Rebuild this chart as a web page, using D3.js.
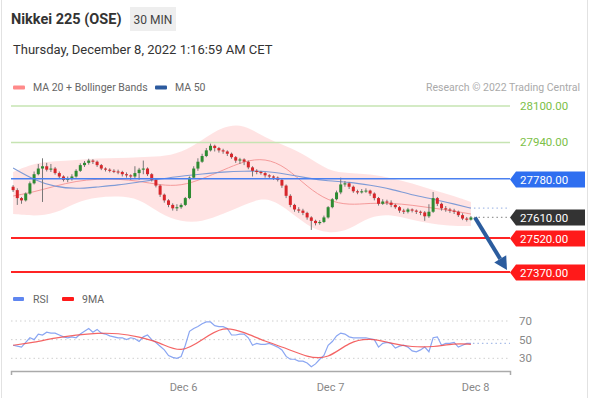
<!doctype html>
<html>
<head>
<meta charset="utf-8">
<script src="https://cdn.jsdelivr.net/npm/d3@7"></script>
<style>
html,body{margin:0;background:#fff;overflow:hidden;}
svg{display:block;font-family:Roboto,"Noto Sans",sans-serif;}
</style>
</head>
<body>
<script>
// 30 min bars, Dec 5 evening -> Dec 8 early morning
var closes = [
  27730,27695,27685,27715,27760,27800,27825,27835,27820,27825,
  27805,27790,27775,27780,27790,27815,27840,27850,27860,27855,
  27840,27825,27820,27815,27812,27810,27800,27795,27790,27805,
  27820,27825,27800,27775,27750,27710,27685,27665,27650,27655,
  27665,27695,27785,27825,27855,27880,27905,27925,27915,27905,
  27900,27890,27875,27860,27865,27855,27830,27815,27810,27805,
  27795,27790,27785,27775,27750,27705,27665,27645,27640,27630,
  27610,27595,27585,27590,27610,27655,27690,27720,27755,27760,
  27745,27725,27720,27725,27728,27715,27695,27670,27680,27675,
  27665,27655,27640,27635,27645,27640,27635,27632,27615,27635,
  27695,27670,27650,27645,27640,27635,27620,27605,27600,27610
];
var highs = [
  27752,27738,27700,27720,27768,27812,27845,27870,27850,27845,
  27832,27812,27795,27790,27800,27822,27848,27858,27868,27866,
  27860,27845,27830,27826,27822,27820,27815,27808,27800,27835,
  27828,27860,27830,27805,27780,27755,27715,27690,27672,27668,
  27672,27700,27790,27835,27870,27890,27915,27935,27930,27920,
  27912,27905,27895,27880,27872,27870,27860,27835,27822,27815,
  27810,27800,27795,27790,27780,27755,27712,27670,27655,27648,
  27635,27615,27600,27598,27618,27660,27695,27728,27785,27770,
  27765,27750,27732,27735,27738,27732,27720,27700,27690,27688,
  27685,27670,27660,27648,27652,27650,27645,27640,27638,27668,
  27722,27700,27675,27660,27652,27648,27640,27628,27612,27616
];
var lows = [
  27722,27665,27670,27680,27710,27755,27795,27678,27812,27810,
  27798,27782,27768,27765,27772,27785,27810,27832,27842,27845,
  27832,27818,27812,27808,27805,27800,27790,27785,27775,27782,
  27775,27800,27792,27768,27742,27700,27675,27655,27640,27638,
  27648,27660,27690,27780,27815,27850,27875,27900,27900,27895,
  27890,27880,27868,27850,27845,27840,27822,27790,27800,27798,
  27785,27780,27775,27768,27740,27695,27655,27635,27630,27620,
  27600,27555,27575,27578,27585,27605,27650,27685,27712,27745,
  27735,27718,27712,27715,27718,27705,27685,27662,27665,27665,
  27655,27648,27630,27625,27628,27632,27625,27620,27595,27608,
  27630,27660,27640,27635,27630,27625,27612,27598,27592,27596
];
var firstOpen = 27745;

// indicator readings every 5 bars
var bandIdx = [0,5,10,15,20,25,30,35,40,45,50,55,60,65,70,75,80,85,90,95,100,105,109];
var ma20 = [27704,27722,27748,27770,27779,27779,27770,27752,27748,27779,27818,27858,27871,27832,27744,27682,27664,27673,27673,27664,27651,27638,27625];
var ma50 = [27827,27774,27744,27735,27744,27752,27766,27779,27792,27801,27810,27814,27814,27801,27783,27770,27766,27752,27735,27708,27691,27669,27651];
var bbUpper = [27810,27849,27858,27862,27871,27871,27876,27876,27893,27950,28012,28021,27959,27924,27880,27814,27805,27801,27783,27761,27730,27704,27678];
var bbLower = [27625,27616,27625,27678,27700,27704,27695,27625,27590,27590,27625,27664,27704,27651,27572,27537,27554,27616,27625,27598,27581,27572,27572];

var rsi = [
  44,43,42,47,52,50,56,55,58,57,
  57,55,53,52,53,52,56,59,62,58,
  61,57,56,54,53,52,52,50,52,51,
  48,53,55,50,47,43,39,33,31,30,
  32,44,59,62,64,67,69,69,65,64,
  64,62,55,55,56,56,52,44,46,45,
  45,46,44,42,39,32,29,29,27,27,
  25,21,24,29,33,44,48,54,57,56,
  53,52,52,52,52,51,50,42,46,47,
  46,41,43,44,42,38,37,39,42,37,
  52,53,44,46,46,47,42,44,46,46
];
var rsiMa = [44,47,52,55,57,57,53,47,35,50,65,58,48,41,31,29,48,52,46,42,42,46,45];

var dayTicks = [40.45, 75.45, 110];
var dayLabels = ["Dec 6", "Dec 7", "Dec 8"];
var resistances = [28100, 27940];
var pivot = 27780;
var lastPrice = 27610;
var supports = [27520, 27370];
var rsiLevels = [70, 50, 30];

var W = 589, H = 398;
var svg = d3.select("body").append("svg").attr("width", W).attr("height", H);

// card edges
svg.append("line").attr("x1", 1.5).attr("x2", 1.5).attr("y1", 0).attr("y2", H).attr("stroke", "#e2e2e2");
svg.append("line").attr("x1", 587.5).attr("x2", 587.5).attr("y1", 0).attr("y2", H).attr("stroke", "#e2e2e2");

// header
svg.append("text").attr("x", 11).attr("y", 24).attr("font-size", 14.5).attr("font-weight", "bold")
  .attr("fill", "#333").text("Nikkei 225 (OSE)");
svg.append("rect").attr("x", 130).attr("y", 7).attr("width", 46).attr("height", 24).attr("fill", "#eeeeee");
svg.append("text").attr("x", 153).attr("y", 23.5).attr("text-anchor", "middle").attr("font-size", 12)
  .attr("fill", "#444").text("30 MIN");
svg.append("text").attr("x", 13).attr("y", 54).attr("font-size", 13).attr("fill", "#333")
  .text("Thursday, December 8, 2022 1:16:59 AM CET");

// legend
svg.append("rect").attr("x", 13).attr("y", 85.5).attr("width", 12).attr("height", 4).attr("rx", 1).attr("fill", "#ff8a8a");
svg.append("text").attr("x", 33).attr("y", 91).attr("font-size", 10.5).attr("fill", "#666").text("MA 20 + Bollinger Bands");
svg.append("rect").attr("x", 155).attr("y", 85.5).attr("width", 12).attr("height", 4).attr("rx", 1).attr("fill", "#2c5a9e");
svg.append("text").attr("x", 175).attr("y", 91).attr("font-size", 10.5).attr("fill", "#666").text("MA 50");
svg.append("text").attr("x", 580).attr("y", 91).attr("text-anchor", "end").attr("font-size", 10.5)
  .attr("fill", "#aaa").text("Research \u00a9 2022 Trading Central");

// scales
var x = d3.scaleLinear().domain([-0.5, 118.3]).range([11, 510]);
var y = d3.scaleLinear().domain([27370, 28100]).range([272, 106]);
var yR = d3.scaleLinear().domain([30, 70]).range([358.3, 321]);

var bars = closes.map(function (c, i) {
  return { i: i, o: i === 0 ? firstOpen : closes[i - 1], c: c, h: highs[i], l: lows[i] };
});
var band = bandIdx.map(function (b, k) {
  return { i: b, up: bbUpper[k], lo: bbLower[k], m20: ma20[k], m50: ma50[k], rm: rsiMa[k] };
});

// bollinger band
svg.append("path").datum(band)
  .attr("d", d3.area().curve(d3.curveBasis)
    .x(function (d) { return x(d.i); }).y0(function (d) { return y(d.lo); }).y1(function (d) { return y(d.up); }))
  .attr("fill", "#ffdede").attr("opacity", 0.85);
svg.append("path").datum(band)
  .attr("d", d3.line().curve(d3.curveBasis).x(function (d) { return x(d.i); }).y(function (d) { return y(d.m20); }))
  .attr("fill", "none").attr("stroke", "#f59a9a").attr("stroke-width", 1);
svg.append("path").datum(band)
  .attr("d", d3.line().curve(d3.curveBasis).x(function (d) { return x(d.i); }).y(function (d) { return y(d.m50); }))
  .attr("fill", "none").attr("stroke", "#7f9bd6").attr("stroke-width", 1.1);
var lastBand = band[band.length - 1];
svg.append("line").attr("x1", x(lastBand.i) + 3).attr("x2", 510).attr("y1", y(lastBand.m50)).attr("y2", y(lastBand.m50))
  .attr("stroke", "#a9bde8").attr("stroke-width", 1.2).attr("stroke-dasharray", "1.5,3");

// candles
var candle = svg.append("g").selectAll("g").data(bars).enter().append("g");
candle.append("line")
  .attr("x1", function (d) { return x(d.i); }).attr("x2", function (d) { return x(d.i); })
  .attr("y1", function (d) { return y(d.h); }).attr("y2", function (d) { return y(d.l); })
  .attr("stroke", "#777").attr("stroke-width", 1);
candle.append("rect")
  .attr("x", function (d) { return x(d.i) - 1.5; }).attr("width", 3)
  .attr("y", function (d) { return y(Math.max(d.o, d.c)); })
  .attr("height", function (d) { return Math.max(1, Math.abs(y(d.o) - y(d.c))); })
  .attr("fill", function (d) { return d.c >= d.o ? "#2e8b32" : "#d7262b"; });

// levels
function tag(v, color, label) {
  var yy = Math.round(y(v)) + 0.5;
  svg.append("path")
    .attr("d", "M510," + yy + "L516," + (yy - 8) + "L585," + (yy - 8) + "L585," + (yy + 8) + "L516," + (yy + 8) + "Z")
    .attr("fill", color);
  svg.append("text").attr("x", 520).attr("y", yy + 4).attr("font-size", 11.5).attr("fill", "#fff").text(label);
}
resistances.forEach(function (v) {
  svg.append("line").attr("x1", 11).attr("x2", 510).attr("y1", y(v)).attr("y2", y(v))
    .attr("stroke", "#c6e4b2").attr("stroke-width", 1.5);
  svg.append("text").attr("x", 520).attr("y", y(v) + 4).attr("font-size", 11.5).attr("fill", "#7cbf48").text(v.toFixed(2));
});
svg.append("line").attr("x1", 11).attr("x2", 510).attr("y1", y(pivot)).attr("y2", y(pivot))
  .attr("stroke", "#4a80f0").attr("stroke-width", 1.5);
tag(pivot, "#2f6ff0", pivot.toFixed(2));
svg.append("line").attr("x1", x(bars.length - 1) + 3).attr("x2", 510).attr("y1", y(lastPrice)).attr("y2", y(lastPrice))
  .attr("stroke", "#999").attr("stroke-width", 1.2).attr("stroke-dasharray", "1.5,3");
tag(lastPrice, "#333333", lastPrice.toFixed(2));
supports.forEach(function (v) {
  svg.append("line").attr("x1", 11).attr("x2", 510).attr("y1", y(v)).attr("y2", y(v))
    .attr("stroke", "#ff2424").attr("stroke-width", 2);
  tag(v, "#ff1a1a", v.toFixed(2));
});

// forecast arrow
var ax0 = x(bars.length - 1) + 4, ay0 = y(lastPrice);
var ax1 = 507, ay1 = y(supports[1]) - 2;
var ang = Math.atan2(ay1 - ay0, ax1 - ax0);
var hl = 13, hw = 7;
var bx = ax1 - hl * Math.cos(ang), by = ay1 - hl * Math.sin(ang);
svg.append("line").attr("x1", ax0).attr("y1", ay0).attr("x2", bx).attr("y2", by)
  .attr("stroke", "#2b5c9e").attr("stroke-width", 4);
svg.append("path")
  .attr("d", "M" + ax1 + "," + ay1 +
    "L" + (bx + hw * Math.sin(ang)) + "," + (by - hw * Math.cos(ang)) +
    "L" + (bx - hw * Math.sin(ang)) + "," + (by + hw * Math.cos(ang)) + "Z")
  .attr("fill", "#2b5c9e");

// RSI panel
svg.append("rect").attr("x", 13).attr("y", 297).attr("width", 11).attr("height", 4).attr("rx", 1).attr("fill", "#5f86f0");
svg.append("text").attr("x", 33).attr("y", 302.5).attr("font-size", 10.5).attr("fill", "#666").text("RSI");
svg.append("rect").attr("x", 62).attr("y", 297).attr("width", 12).attr("height", 4).attr("rx", 1).attr("fill", "#ff1a1a");
svg.append("text").attr("x", 82).attr("y", 302.5).attr("font-size", 10.5).attr("fill", "#666").text("9MA");

rsiLevels.forEach(function (v) {
  svg.append("line").attr("x1", 11).attr("x2", 510).attr("y1", yR(v)).attr("y2", yR(v))
    .attr("stroke", "#cfcfcf").attr("stroke-width", 1).attr("stroke-dasharray", "1.5,3");
  svg.append("text").attr("x", 519).attr("y", yR(v) + 4).attr("font-size", 11.5).attr("fill", "#888").text(v);
});
svg.append("path").datum(rsi)
  .attr("d", d3.line().x(function (d, i) { return x(i); }).y(function (d) { return yR(d); }))
  .attr("fill", "none").attr("stroke", "#8aa6f2").attr("stroke-width", 1.2);
svg.append("path").datum(band)
  .attr("d", d3.line().curve(d3.curveBasis).x(function (d) { return x(d.i); }).y(function (d) { return yR(d.rm); }))
  .attr("fill", "none").attr("stroke", "#f24a4a").attr("stroke-width", 1.2).attr("opacity", 0.85);
svg.append("line").attr("x1", x(rsi.length - 1) + 2).attr("x2", 510)
  .attr("y1", yR(rsi[rsi.length - 1])).attr("y2", yR(rsi[rsi.length - 1]))
  .attr("stroke", "#a9bde8").attr("stroke-width", 1.2).attr("stroke-dasharray", "1.5,3");

// time axis
var axis = svg.append("g").attr("transform", "translate(0,371)")
  .call(d3.axisBottom(x).tickValues(dayTicks).tickFormat(function (d, k) { return dayLabels[k]; })
    .tickSize(0).tickSizeOuter(4).tickPadding(12));
axis.select(".domain").attr("stroke", "#aaa").attr("stroke-width", 1.5);
axis.selectAll("text").attr("font-size", 11).attr("fill", "#888").attr("font-family", "Roboto,sans-serif");
</script>
</body>
</html>
